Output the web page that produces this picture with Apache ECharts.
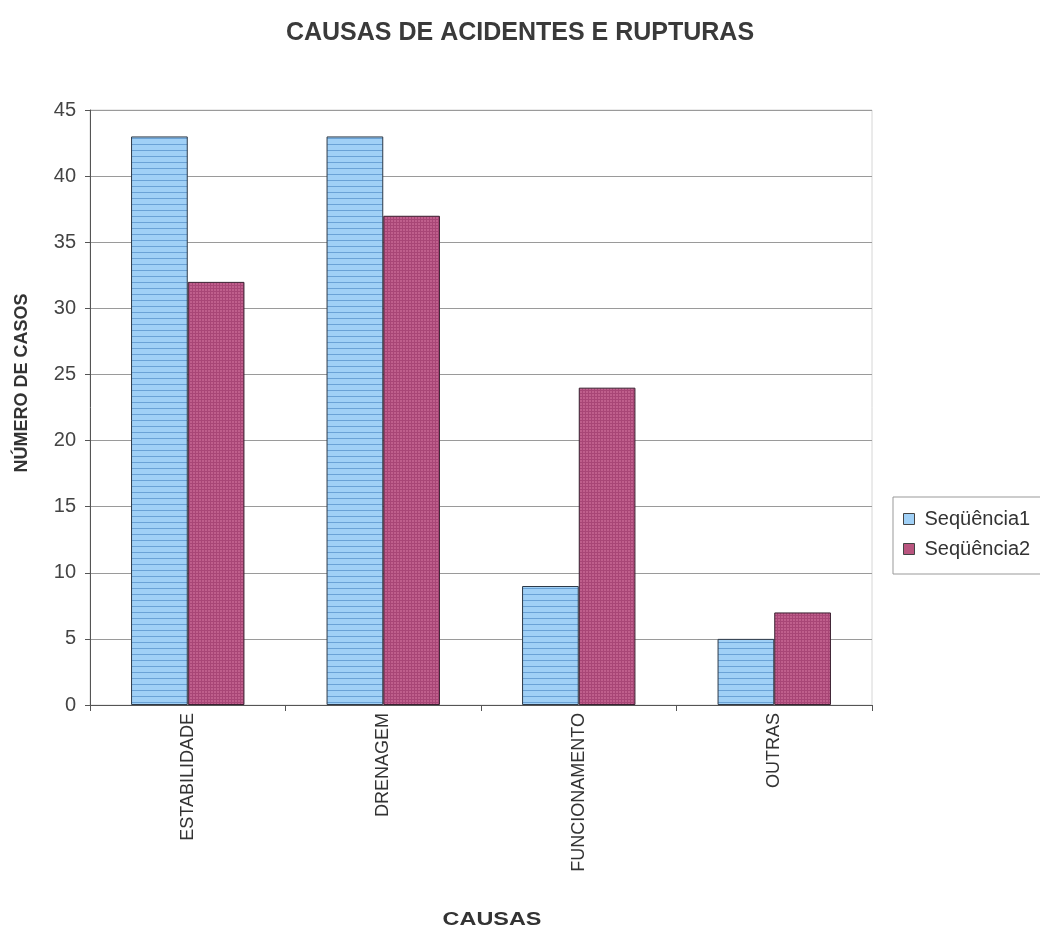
<!DOCTYPE html>
<html>
<head>
<meta charset="utf-8">
<script src="https://cdn.jsdelivr.net/npm/echarts@6/dist/echarts.min.js"></script>
<style>
  html, body { margin: 0; padding: 0; background: #fff; overflow: hidden; }
  #chart { width: 1040px; height: 932px; }
</style>
</head>
<body>
<div id="chart"></div>
<script>
// Causes of accidents and failures
const categories = ['ESTABILIDADE', 'DRENAGEM', 'FUNCIONAMENTO', 'OUTRAS'];
const seriesNames = ['Seqüência1', 'Seqüência2'];
const seq1 = [43, 43, 9, 5];
const seq2 = [32, 37, 24, 7];
const yTicks = [0, 5, 10, 15, 20, 25, 30, 35, 40, 45];
const xAxisTitle = 'CAUSAS';
const yAxisTitle = 'NÚMERO DE CASOS';

// Horizontal stripe fill for the first series
function stripePattern() {
  const c = document.createElement('canvas');
  c.width = 8; c.height = 6;
  const g = c.getContext('2d');
  g.fillStyle = '#a0d0f6';
  g.fillRect(0, 0, 8, 6);
  g.fillStyle = '#6aa2d6';
  g.fillRect(0, 0, 8, 1);
  return c;
}
// Fine grid fill for the second series
function gridPattern() {
  const c = document.createElement('canvas');
  c.width = 3; c.height = 3;
  const g = c.getContext('2d');
  g.fillStyle = '#bf5f8c';
  g.fillRect(0, 0, 3, 3);
  g.fillStyle = '#a84676';
  g.fillRect(0, 0, 3, 1);
  g.fillRect(0, 0, 1, 3);
  return c;
}

const chart = echarts.init(document.getElementById('chart'));
const font = '"Liberation Sans", Arial, sans-serif';

chart.setOption({
  animation: false,
  textStyle: { fontFamily: font },
  title: {
    text: 'CAUSAS DE ACIDENTES E RUPTURAS',
    left: 'center',
    top: 16,
    textStyle: { fontSize: 25, fontWeight: 'bold', color: '#3a3a3a', fontFamily: font }
  },
  legend: {
    orient: 'vertical',
    left: 893,
    top: 497,
    padding: [12, 14, 15, 10],
    itemGap: 10,
    itemWidth: 11,
    itemHeight: 11,
    borderColor: '#999',
    borderWidth: 1,
    icon: 'rect',
    data: seriesNames.map((n, i) => ({
      name: n,
      itemStyle: { color: i === 0 ? '#a0d0f6' : '#b9557f', borderColor: '#444', borderWidth: 1 }
    })),
    textStyle: { fontSize: 20, color: '#333', padding: [0, 0, 0, 5] }
  },
  grid: {
    left: 90, right: 168, top: 110, bottom: 227,
    outerBoundsMode: 'none',
    containLabel: false,
    show: true, borderColor: '#d6d6d6', borderWidth: 1
  },
  xAxis: {
    type: 'category',
    data: categories,
    axisLine: { lineStyle: { color: '#555', width: 1 } },
    axisTick: { show: true, length: 6, lineStyle: { color: '#555' } },
    axisLabel: { rotate: 90, fontSize: 18, color: '#333', margin: 8 }
  },
  yAxis: {
    type: 'value',
    min: yTicks[0],
    max: yTicks[yTicks.length - 1],
    interval: 5,
    axisLine: { show: true, lineStyle: { color: '#555', width: 1 } },
    axisTick: { show: true, length: 5, inside: false, lineStyle: { color: '#555' } },
    axisLabel: { fontSize: 20, color: '#444', margin: 14 },
    splitLine: { lineStyle: { color: '#9a9a9a', width: 1 } }
  },
  graphic: [
    {
      type: 'text',
      x: 22, y: 383,
      rotation: Math.PI / 2,
      style: {
        text: yAxisTitle,
        font: 'bold 18px ' + font,
        fill: '#333',
        align: 'center',
        verticalAlign: 'middle'
      }
    },
    {
      type: 'text',
      x: 492, y: 920,
      scaleX: 1.3,
      style: {
        text: xAxisTitle,
        font: 'bold 18px ' + font,
        fill: '#333',
        align: 'center',
        verticalAlign: 'middle'
      }
    }
  ],
  series: [
    {
      name: seriesNames[0],
      type: 'bar',
      data: seq1,
      barGap: '0%',
      barCategoryGap: '42%',
      itemStyle: {
        color: { image: stripePattern(), repeat: 'repeat' },
        borderColor: '#2e3a48',
        borderWidth: 1
      }
    },
    {
      name: seriesNames[1],
      type: 'bar',
      data: seq2,
      barGap: '0%',
      barCategoryGap: '42%',
      itemStyle: {
        color: { image: gridPattern(), repeat: 'repeat' },
        borderColor: '#3a2030',
        borderWidth: 1
      }
    }
  ]
});
</script>
</body>
</html>
